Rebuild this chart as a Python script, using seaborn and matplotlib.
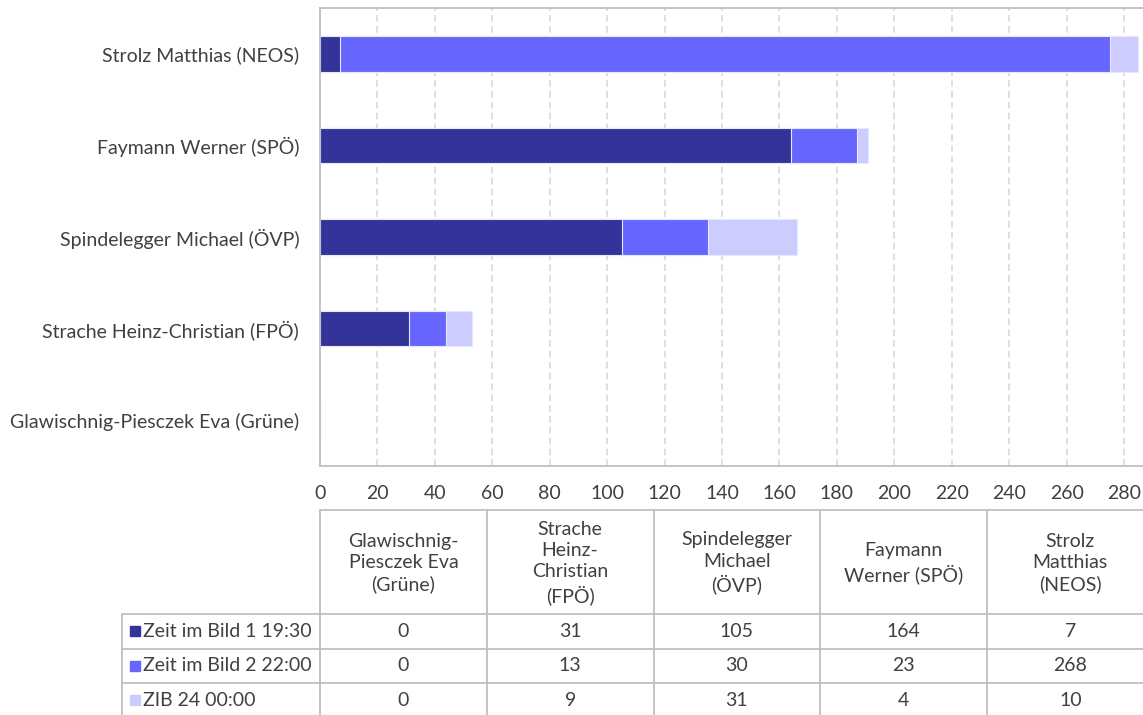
import matplotlib
matplotlib.use("Agg")
import matplotlib.pyplot as plt
from matplotlib.lines import Line2D
from matplotlib.patches import Rectangle
import seaborn as sns
import pandas as pd

# -----------------------------
# data (table order, left to right)
# -----------------------------
politicians = ["Glawischnig-Piesczek Eva (Grüne)", "Strache Heinz-Christian (FPÖ)",
               "Spindelegger Michael (ÖVP)", "Faymann Werner (SPÖ)", "Strolz Matthias (NEOS)"]
header_labels = ["Glawischnig-\nPiesczek Eva\n(Grüne)", "Strache\nHeinz-\nChristian\n(FPÖ)",
                 "Spindelegger\nMichael\n(ÖVP)", "Faymann\nWerner (SPÖ)", "Strolz\nMatthias\n(NEOS)"]
series_names = ["Zeit im Bild 1 19:30", "Zeit im Bild 2 22:00", "ZIB 24 00:00"]
zib1 = [0, 31, 105, 164, 7]
zib2 = [0, 13, 30, 23, 268]
zib24 = [0, 9, 31, 4, 10]
colors = ["#333399", "#6666FF", "#CCCCFF"]
xticks = list(range(0, 300, 20))

W, H = 1143, 715
TXT = "#404040"
GRID = "#BFBFBF"
FS = 14

sns.set_style("white")
plt.rcParams["font.family"] = ["Lato", "DejaVu Sans"]

df = pd.DataFrame({"name": politicians, "zib1": zib1, "zib2": zib2, "zib24": zib24})
df["c1"] = df["zib1"]
df["c2"] = df["zib1"] + df["zib2"]
df["c3"] = df["c2"] + df["zib24"]

fig = plt.figure(figsize=(W / 100, H / 100), dpi=100)
ax = fig.add_axes([320 / W, 1 - 466 / H, (W - 320) / W, (466 - 8) / H])

order = politicians[::-1]
# stacked bars drawn as overlapping cumulative totals
for col, c in zip(["c3", "c2", "c1"], colors[::-1]):
    sns.barplot(data=df, x=col, y="name", order=order, color=c, width=0.39,
                saturation=1, orient="h", ax=ax, linewidth=0.8, edgecolor="#E8E8FF")

ax.set_xlim(0, 286.6)
ax.set_xticks(xticks)
ax.set_xlabel("")
ax.set_ylabel("")
ax.grid(axis="x", color="#D9D9D9", linestyle=(0, (4, 2.5)), linewidth=1.2)
ax.set_axisbelow(True)
ax.tick_params(axis="x", length=0, pad=13.5, labelsize=FS, labelcolor=TXT)
ax.tick_params(axis="y", length=0, pad=15, labelsize=FS, labelcolor=TXT)
for s in ["left", "bottom", "top"]:
    ax.spines[s].set_color(GRID)
    ax.spines[s].set_linewidth(1.3)
ax.spines["right"].set_visible(False)

# -----------------------------
# data table below the chart
# -----------------------------
def fx(x):
    return x / W

def fy(y):
    return 1 - y / H

def hline(x0, x1, y):
    fig.add_artist(Line2D([fx(x0), fx(x1)], [fy(y), fy(y)], color=GRID, lw=1.3))

def vline(x, y0, y1):
    fig.add_artist(Line2D([fx(x), fx(x)], [fy(y0), fy(y1)], color=GRID, lw=1.3))

col_w = 166.75
col_x = [320 + i * col_w for i in range(6)]
head_top, head_bot = 510, 614
row_y = [614, 648.5, 683, 717.5]

hline(320, W + 5, head_top)
hline(122, W + 5, head_bot)
for y in row_y[1:]:
    hline(122, W + 5, y)
for x in col_x:
    vline(x, head_top, H + 5)
vline(122, head_bot, H + 5)

for i, lab in enumerate(header_labels):
    fig.text(fx(col_x[i] + col_w / 2), fy((head_top + head_bot) / 2 + 1), lab,
             ha="center", va="center", fontsize=FS, color=TXT, linespacing=1.3)

for r, (name, vals) in enumerate(zip(series_names, [zib1, zib2, zib24])):
    yc = (row_y[r] + row_y[r + 1]) / 2
    fig.add_artist(Rectangle((fx(130), fy(yc + 5)), 10 / W, 10 / H, color=colors[r],
                             transform=fig.transFigure))
    fig.text(fx(143), fy(yc), name, ha="left", va="center", fontsize=FS, color=TXT)
    for i, v in enumerate(vals):
        fig.text(fx(col_x[i] + col_w / 2), fy(yc), str(v), ha="center", va="center",
                 fontsize=FS, color=TXT)

fig.savefig("out.png", dpi=100)
